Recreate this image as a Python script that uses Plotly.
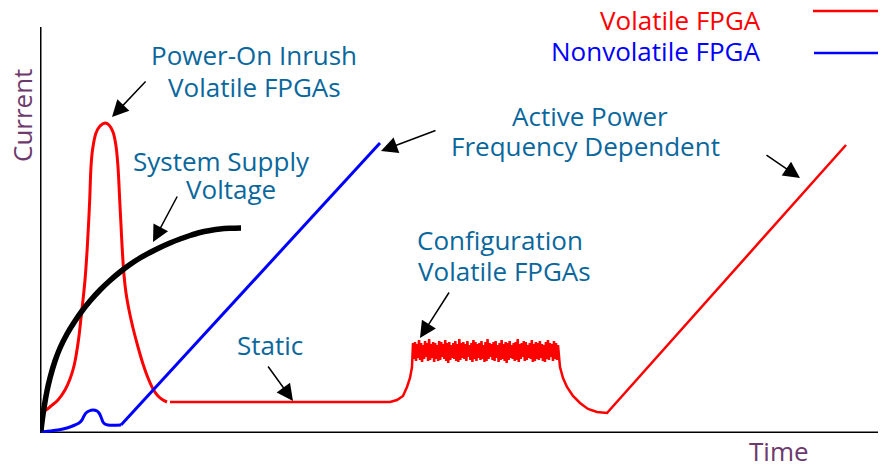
import plotly.graph_objects as go

# ---- data (time, current) in chart units ----
supply_t = [1, 2, 4, 7, 10, 15, 20, 27, 35, 42, 50, 60, 70, 80, 90, 100, 110, 120, 130, 140, 150, 160, 170, 180, 190, 201]
supply_c = [2, 11, 25, 42, 55, 72, 85, 99, 112, 122, 132, 143, 152.5, 161, 168.5, 175, 180.5, 185.5, 190, 194, 197.5,
            200.5, 202.5, 204, 204.7, 205]

inrush_t = [1, 6, 11, 18, 25, 30, 34, 37, 39, 41, 43, 45, 47, 48.5, 49.7, 51, 52.5, 56, 60, 65, 69, 73, 76, 78,
            79.7, 81, 82.3, 84, 86, 89, 93, 98, 103, 108, 113, 118, 123, 127]
inrush_c = [21, 23, 27, 33, 43, 54, 67, 83, 97, 115, 133, 153, 181, 208, 233, 266, 283, 300, 307, 310, 308, 301, 287, 266,
            233, 208, 183, 158, 140, 123, 105, 86, 69, 55, 44, 37, 33, 31]

static_t = [130, 340, 350, 357, 363, 367, 370, 372, 373]
static_c = [31, 31, 31, 33, 37, 46, 55, 66, 88]

config_start, config_end = 373, 517
config_peaks = [90, 91, 89, 93, 90, 88, 92, 90, 94, 89, 91, 90, 88, 92, 91, 89, 93, 90, 91, 88, 90, 92, 89, 94,
                90, 91, 89, 92, 88, 90, 93, 91, 89, 90, 92, 88, 91, 94, 90, 89, 91, 92, 88, 90, 93, 89, 91, 90,
                92, 88, 90, 91, 94, 89, 90, 92, 91, 88, 90, 93, 89, 91, 90, 92, 89, 88, 91, 93, 90, 89, 92, 90]
config_troughs = [74, 72, 75, 73, 71, 74, 76, 72, 73, 75, 71, 74, 72, 73, 76, 74, 72, 70, 73, 75, 74, 72, 71, 73,
                  75, 74, 72, 76, 73, 71, 74, 72, 75, 73, 74, 71, 72, 74, 76, 73, 72, 75, 71, 73, 74, 72, 70, 73,
                  75, 74, 72, 73, 71, 74, 76, 72, 73, 75, 74, 71, 72, 74, 73, 75, 72, 71, 74, 73, 76, 72, 74, 73]

active_t = [518, 520, 523, 527, 533, 540, 548, 557, 563, 567, 806]
active_c = [88, 66, 55, 46, 37, 30, 24, 21, 20, 20, 288]

nv_bump_t = [1, 10, 18, 27, 35, 39, 42, 44, 46, 49, 53, 57, 59, 61, 63, 65, 68, 81]
nv_bump_c = [1, 2, 3, 5, 8, 10, 13, 17, 20, 22, 23, 22, 20, 16, 11, 9, 8, 8]
nv_ramp_t = [81, 340]
nv_ramp_c = [8, 290]

# ---- build traces ----
config_c = []
for p, q in zip(config_peaks, config_troughs):
    config_c += [p, q]
n = len(config_c)
config_t = [config_start + (config_end - config_start) * i / (n - 1) for i in range(n)]

RED = "#ff0000"
BLUE = "#0000ff"
TEAL = "#0a679c"
PURPLE = "#6c3a6c"
FONT = "Open Sans"
FS = 26
XMAX, YMAX = 846, 425

fig = go.Figure()
fig.add_trace(go.Scatter(x=inrush_t, y=inrush_c, mode="lines", line=dict(color=RED, width=3, shape="spline"),
                         hoverinfo="skip"))
fig.add_trace(go.Scatter(x=static_t + config_t + active_t, y=static_c + config_c + active_c, mode="lines",
                         line=dict(color=RED, width=2.5), hoverinfo="skip"))
fig.add_trace(go.Scatter(x=nv_bump_t, y=nv_bump_c, mode="lines", line=dict(color=BLUE, width=3, shape="spline"),
                         hoverinfo="skip"))
fig.add_trace(go.Scatter(x=nv_ramp_t, y=nv_ramp_c, mode="lines", line=dict(color=BLUE, width=3),
                         hoverinfo="skip"))
fig.add_trace(go.Scatter(x=supply_t, y=supply_c, mode="lines", line=dict(color="black", width=5.5, shape="spline"),
                         hoverinfo="skip"))

shapes = [
    dict(type="line", x0=0, y0=0, x1=0, y1=406, line=dict(color="black", width=3), layer="below"),
    dict(type="line", x0=0, y0=0, x1=XMAX, y1=0, line=dict(color="black", width=3), layer="below"),
    dict(type="line", x0=773, y0=422, x1=XMAX, y1=422, line=dict(color=RED, width=2.5)),
    dict(type="line", x0=774, y0=380, x1=XMAX, y1=380, line=dict(color=BLUE, width=2.5)),
]

arrows = [
    (72, 316, 107, 353),
    (113, 191, 138, 238),
    (341, 282, 397, 303),
    (760, 255, 725, 279),
    (253, 32, 227, 68),
    (380, 95, 410, 142),
]
annotations = []
for hx, hy, tx, ty in arrows:
    annotations.append(dict(x=hx, y=hy, ax=tx, ay=ty, xref="x", yref="y", axref="x", ayref="y",
                            text="", showarrow=True, arrowhead=2, arrowsize=2.2, arrowwidth=1.5,
                            arrowcolor="black", standoff=0))

labels = [
    ("Power-On Inrush", 214, 378),
    ("Volatile FPGAs", 214, 346),
    ("System Supply", 181, 272),
    ("Voltage", 191, 244),
    ("Active Power", 550, 317),
    ("Frequency Dependent", 545, 287),
    ("Configuration", 460, 193),
    ("Volatile FPGAs", 464, 162),
    ("Static", 230, 88),
]
for txt, x, y in labels:
    annotations.append(dict(x=x, y=y, xref="x", yref="y", text=txt, showarrow=False,
                            xanchor="center", yanchor="middle",
                            font=dict(family=FONT, size=FS, color=TEAL)))

annotations.append(dict(x=723, y=413, xref="x", yref="y", text="Volatile FPGA", showarrow=False,
                        xanchor="right", yanchor="middle", font=dict(family=FONT, size=FS, color=RED)))
annotations.append(dict(x=723, y=382, xref="x", yref="y", text="Nonvolatile FPGA", showarrow=False,
                        xanchor="right", yanchor="middle", font=dict(family=FONT, size=FS, color=BLUE)))
annotations.append(dict(x=-18 / XMAX, y=317 / YMAX, xref="paper", yref="paper", text="Current", showarrow=False,
                        textangle=-90, xanchor="center", yanchor="middle",
                        font=dict(family=FONT, size=FS, color=PURPLE)))
annotations.append(dict(x=739 / XMAX, y=-18 / YMAX, xref="paper", yref="paper", text="Time", showarrow=False,
                        xanchor="center", yanchor="middle", font=dict(family=FONT, size=FS, color=PURPLE)))

# page body has an 8px margin: figure is 878x456 placed at (8, 8)
fig.update_layout(
    width=878, height=456,
    margin=dict(l=32, r=0, t=0, b=31),
    paper_bgcolor="white", plot_bgcolor="white",
    showlegend=False,
    xaxis=dict(range=[0, XMAX], visible=False, fixedrange=True),
    yaxis=dict(range=[0, YMAX], visible=False, fixedrange=True),
    shapes=shapes,
    annotations=annotations,
)

fig.write_html("out.html")
